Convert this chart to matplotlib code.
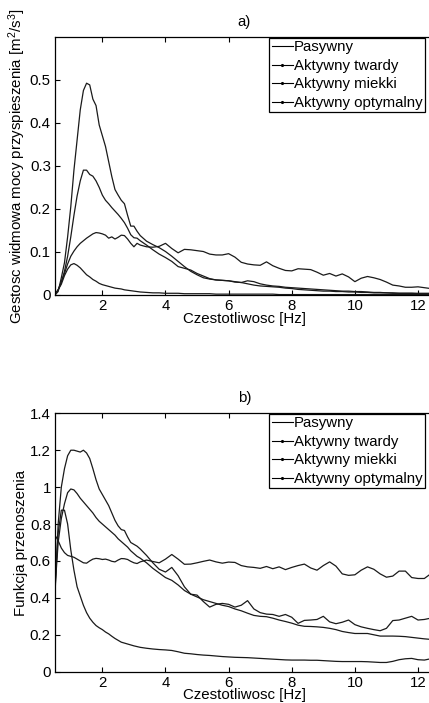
import matplotlib
matplotlib.use("Agg")
import matplotlib.pyplot as plt
from matplotlib.lines import Line2D

plt.rcParams["font.family"] = ["Liberation Sans", "DejaVu Sans"]
plt.rcParams["font.size"] = 10.8
plt.rcParams["mathtext.fontset"] = "custom"
plt.rcParams["mathtext.rm"] = "Liberation Sans"
plt.rcParams["mathtext.it"] = "Liberation Sans"

freq = [0.5, 0.6, 0.7, 0.8, 0.9, 1.0, 1.1, 1.2, 1.3, 1.4, 1.5, 1.6, 1.7, 1.8, 1.9,
        2.0, 2.1, 2.2, 2.3, 2.4, 2.5, 2.6, 2.7, 2.8, 2.9, 3.0, 3.1, 3.2, 3.4, 3.6,
        3.8, 4.0, 4.2, 4.4, 4.6, 4.8, 5.0, 5.2, 5.4, 5.6, 5.8, 6.0, 6.2, 6.4, 6.6,
        6.8, 7.0, 7.2, 7.4, 7.6, 7.8, 8.0, 8.2, 8.4, 8.6, 8.8, 9.0, 9.2, 9.4, 9.6,
        9.8, 10.0, 10.2, 10.4, 10.6, 10.8, 11.0, 11.2, 11.4, 11.6, 11.8, 12.0,
        12.2, 12.4, 12.5]

labels = ["Pasywny", "Aktywny twardy", "Aktywny miekki", "Aktywny optymalny"]

# a) power spectral density of acceleration
psd_pasywny = [0.0, 0.008, 0.04, 0.075, 0.135, 0.205, 0.29, 0.36, 0.43, 0.475, 0.492,
               0.488, 0.455, 0.44, 0.395, 0.37, 0.345, 0.31, 0.275, 0.245, 0.232,
               0.22, 0.212, 0.185, 0.16, 0.16, 0.148, 0.138, 0.125, 0.117, 0.11,
               0.101, 0.09, 0.078, 0.066, 0.055, 0.047, 0.04, 0.037, 0.035, 0.034,
               0.033, 0.031, 0.029, 0.026, 0.023, 0.021, 0.02, 0.019, 0.018, 0.016,
               0.015, 0.013, 0.012, 0.011, 0.010, 0.009, 0.009, 0.008, 0.008, 0.007,
               0.007, 0.006, 0.006, 0.005, 0.005, 0.005, 0.004, 0.004, 0.004, 0.004,
               0.003, 0.003, 0.003, 0.003]
psd_twardy = [0.002, 0.012, 0.03, 0.05, 0.072, 0.09, 0.102, 0.112, 0.12, 0.126, 0.132,
              0.137, 0.142, 0.145, 0.144, 0.142, 0.139, 0.132, 0.135, 0.13, 0.134,
              0.139, 0.138, 0.13, 0.12, 0.112, 0.12, 0.116, 0.112, 0.111, 0.113,
              0.12, 0.108, 0.098, 0.106, 0.105, 0.103, 0.101, 0.095, 0.093, 0.093,
              0.096, 0.088, 0.076, 0.072, 0.07, 0.069, 0.077, 0.068, 0.062, 0.057,
              0.056, 0.061, 0.06, 0.059, 0.053, 0.046, 0.05, 0.044, 0.049, 0.042,
              0.031, 0.039, 0.043, 0.04, 0.036, 0.03, 0.023, 0.021, 0.018, 0.018,
              0.019, 0.017, 0.015, 0.015]
psd_miekki = [0.002, 0.012, 0.025, 0.045, 0.06, 0.07, 0.073, 0.069, 0.063, 0.055,
              0.047, 0.042, 0.036, 0.032, 0.027, 0.024, 0.022, 0.02, 0.018, 0.016,
              0.015, 0.014, 0.012, 0.011, 0.01, 0.009, 0.008, 0.007, 0.006, 0.005,
              0.005, 0.004, 0.004, 0.004, 0.003, 0.003, 0.003, 0.003, 0.003, 0.002,
              0.002, 0.002, 0.002, 0.002, 0.002, 0.002, 0.002, 0.002, 0.002, 0.001,
              0.001, 0.001, 0.001, 0.001, 0.001, 0.001, 0.001, 0.001, 0.001, 0.001,
              0.001, 0.001, 0.001, 0.001, 0.001, 0.001, 0.001, 0.001, 0.001, 0.001,
              0.001, 0.001, 0.001, 0.001, 0.001]
psd_optymalny = [0.0, 0.012, 0.03, 0.055, 0.09, 0.135, 0.185, 0.23, 0.265, 0.29, 0.29,
                 0.28, 0.276, 0.265, 0.25, 0.232, 0.22, 0.212, 0.203, 0.195, 0.187,
                 0.178, 0.168, 0.155, 0.14, 0.133, 0.132, 0.126, 0.116, 0.105, 0.095,
                 0.087, 0.078, 0.066, 0.062, 0.058, 0.05, 0.044, 0.038, 0.035, 0.034,
                 0.033, 0.03, 0.029, 0.033, 0.031, 0.026, 0.023, 0.021, 0.02, 0.018,
                 0.017, 0.016, 0.015, 0.014, 0.013, 0.012, 0.011, 0.01, 0.009, 0.009,
                 0.008, 0.008, 0.007, 0.006, 0.006, 0.005, 0.005, 0.004, 0.004, 0.004,
                 0.004, 0.004, 0.004, 0.004]

# b) transfer function
tf_pasywny = [0.42, 0.8, 1.0, 1.1, 1.17, 1.2, 1.2, 1.195, 1.19, 1.2, 1.185, 1.155, 1.1,
              1.04, 0.99, 0.96, 0.93, 0.9, 0.86, 0.82, 0.79, 0.77, 0.765, 0.73, 0.7,
              0.69, 0.68, 0.665, 0.63, 0.59, 0.555, 0.54, 0.565, 0.52, 0.46, 0.42,
              0.415, 0.38, 0.35, 0.365, 0.37, 0.365, 0.35, 0.36, 0.385, 0.34, 0.32,
              0.312, 0.31, 0.3, 0.31, 0.295, 0.262, 0.278, 0.28, 0.283, 0.3, 0.27,
              0.26, 0.268, 0.28, 0.255, 0.243, 0.235, 0.228, 0.222, 0.235, 0.277,
              0.28, 0.29, 0.3, 0.28, 0.283, 0.29, 0.29]
tf_twardy = [0.74, 0.71, 0.67, 0.645, 0.63, 0.625, 0.62, 0.61, 0.6, 0.59, 0.588, 0.6,
             0.61, 0.614, 0.612, 0.608, 0.61, 0.605, 0.598, 0.595, 0.605, 0.613,
             0.612, 0.608, 0.598, 0.59, 0.586, 0.595, 0.605, 0.597, 0.59, 0.61, 0.635,
             0.61, 0.582, 0.583, 0.59, 0.598, 0.605, 0.595, 0.588, 0.594, 0.592,
             0.575, 0.568, 0.565, 0.56, 0.57, 0.558, 0.568, 0.553, 0.565, 0.575,
             0.583, 0.562, 0.55, 0.575, 0.595, 0.572, 0.53, 0.522, 0.525, 0.55,
             0.568, 0.555, 0.53, 0.512, 0.518, 0.545, 0.545, 0.51, 0.505, 0.505,
             0.53, 0.54]
tf_miekki = [0.47, 0.75, 0.875, 0.875, 0.8, 0.66, 0.55, 0.46, 0.41, 0.36, 0.32, 0.29,
             0.268, 0.25, 0.238, 0.228, 0.215, 0.205, 0.192, 0.18, 0.17, 0.16, 0.155,
             0.15, 0.145, 0.14, 0.136, 0.132, 0.127, 0.123, 0.12, 0.118, 0.115,
             0.108, 0.1, 0.097, 0.093, 0.09, 0.088, 0.085, 0.082, 0.08, 0.078, 0.077,
             0.076, 0.074, 0.072, 0.07, 0.068, 0.066, 0.064, 0.063, 0.063, 0.063,
             0.062, 0.062, 0.06, 0.058, 0.056, 0.055, 0.055, 0.055, 0.055, 0.054,
             0.052, 0.05, 0.05, 0.056, 0.065, 0.07, 0.072, 0.065, 0.063, 0.07, 0.072]
tf_optymalny = [0.45, 0.7, 0.83, 0.91, 0.97, 0.99, 0.985, 0.965, 0.94, 0.92, 0.9, 0.88,
                0.86, 0.835, 0.815, 0.8, 0.785, 0.77, 0.755, 0.74, 0.72, 0.705, 0.69,
                0.675, 0.655, 0.64, 0.625, 0.615, 0.59, 0.56, 0.535, 0.51, 0.495,
                0.47, 0.44, 0.42, 0.405, 0.39, 0.38, 0.37, 0.36, 0.353, 0.34, 0.33,
                0.317, 0.305, 0.3, 0.298, 0.29, 0.28, 0.272, 0.263, 0.252, 0.246,
                0.245, 0.243, 0.24, 0.235, 0.228, 0.218, 0.212, 0.207, 0.207, 0.207,
                0.2, 0.193, 0.193, 0.193, 0.192, 0.19, 0.186, 0.182, 0.178, 0.175,
                0.174]

psd_series = [psd_pasywny, psd_twardy, psd_miekki, psd_optymalny]
tf_series = [tf_pasywny, tf_twardy, tf_miekki, tf_optymalny]

W, H = 429, 703
fig = plt.figure(figsize=(W / 100, H / 100), dpi=100)
ax_a = fig.add_axes([55 / W, 1 - 295 / H, 378.8 / W, 258.3 / H])
ax_b = fig.add_axes([55 / W, 1 - 671.7 / H, 378.8 / W, 258.4 / H])


def style_axes(ax, title, ylabel, ylim, yticks, yticklabels):
    ax.set_xlim(0.5, 12.5)
    ax.set_ylim(*ylim)
    ax.set_xticks([2, 4, 6, 8, 10, 12])
    ax.set_yticks(yticks)
    ax.set_yticklabels(yticklabels)
    ax.tick_params(direction="in", top=True, right=True, length=3.5, width=0.8,
                   labelsize=10.8, pad=3)
    for sp in ax.spines.values():
        sp.set_linewidth(0.9)
    ax.set_title(title, fontsize=10.8, pad=8)
    ax.set_xlabel("Czestotliwosc [Hz]", fontsize=10.8, labelpad=-1)
    ax.set_ylabel(ylabel, fontsize=10.8, labelpad=1.5)


for ax, series in [(ax_a, psd_series), (ax_b, tf_series)]:
    for vals in series:
        ax.plot(freq, vals, color="#1a1a1a", lw=0.9)

style_axes(ax_a, "a)", "Gestosc widmowa mocy przyspieszenia [m$^2$/s$^3$]",
           (0, 0.6), [0, 0.1, 0.2, 0.3, 0.4, 0.5], ["0", "0.1", "0.2", "0.3", "0.4", "0.5"])
style_axes(ax_b, "b)", "Funkcja przenoszenia",
           (0, 1.4), [0, 0.2, 0.4, 0.6, 0.8, 1.0, 1.2, 1.4],
           ["0", "0.2", "0.4", "0.6", "0.8", "1", "1.2", "1.4"])

# legend with small dot markers for the active variants, anchored at top right
for ax, top_px in [(ax_a, 38), (ax_b, 414)]:
    handles = [Line2D([], [], color="black", lw=0.8)]
    for _ in labels[1:]:
        handles.append(Line2D([], [], color="black", lw=0.8, marker=".", markersize=2.5))
    leg = ax.legend(handles, labels, loc="upper right", fontsize=10.8, frameon=True,
                    fancybox=False, edgecolor="black", framealpha=1,
                    borderpad=0.15, labelspacing=0.3, handlelength=1.4,
                    handletextpad=0.1, borderaxespad=0.0,
                    bbox_to_anchor=(425 / W, 1 - top_px / H),
                    bbox_transform=fig.transFigure)
    leg.get_frame().set_linewidth(0.9)

fig.savefig("out.png", dpi=100)
